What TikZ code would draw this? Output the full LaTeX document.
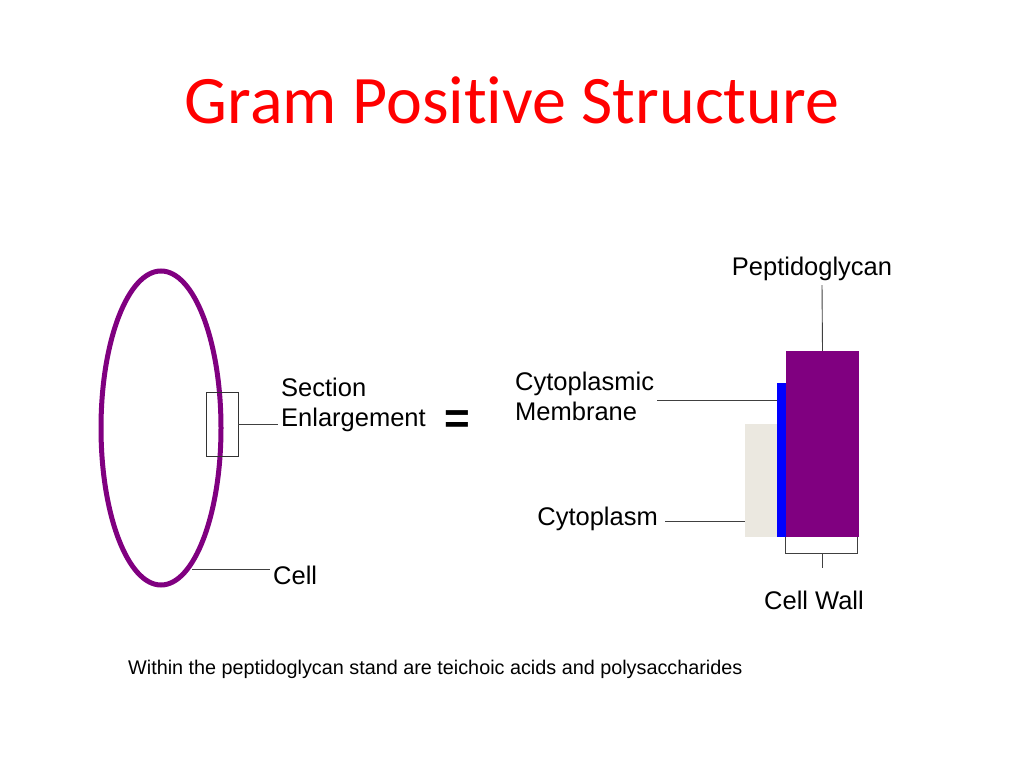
\documentclass[tikz,border=0pt]{standalone}
\usepackage{fontspec}
\setmainfont{Liberation Sans}
\newfontfamily\titlefont[Ligatures={NoCommon}]{Carlito}
\definecolor{ttlred}{RGB}{255,0,0}
\definecolor{cellpurple}{RGB}{128,0,128}
\definecolor{cytocol}{RGB}{235,232,224}
\begin{document}
\begin{tikzpicture}[x=1pt,y=-1pt,
  lbl/.style={font=\fontsize{25.5}{30}\selectfont, inner sep=0pt, align=left},
  conn/.style={draw=black!75, line width=0.9pt}]
\useasboundingbox (0,0) rectangle (1024,768);
\node[font=\titlefont\fontsize{68}{72}\selectfont, text=ttlred] (title) at (512,100) {Gram Positive Structure};
% cell
\draw[cellpurple, line width=5pt] (161,428) ellipse [x radius=60, y radius=157];
\node[draw=black!80, line width=0.8pt, minimum width=32pt, minimum height=64pt, inner sep=0pt] (sec) at (222,424) {};
\node[lbl, anchor=west] (secl) at (281,405) {Section\\Enlargement};
\draw[conn] (sec.east) -- ([xshift=-3pt]secl.west |- sec.east);
\coordinate (cellpt) at (192,569);
\node[lbl, anchor=west] (celll) at (273,575) {Cell};
\draw[conn] (cellpt) -- ([xshift=-3pt]celll.west |- cellpt);
\node[font=\bfseries\fontsize{44}{44}\selectfont, inner sep=0pt] (eq) at (457,422) {=};
% enlargement
\node[fill=cytocol, minimum width=33pt, minimum height=113pt, inner sep=0pt] (cyto) at (761.5,480.5) {};
\node[fill=blue, minimum width=9pt, minimum height=154pt, inner sep=0pt] (mem) at (781.5,460) {};
\node[fill=cellpurple, minimum width=73pt, minimum height=186pt, inner sep=0pt] (pep) at (822.5,444) {};
\node[lbl] (pepl) at (812,269) {Peptidoglycan};
\draw[conn] (pep.north) -- (822,285);
\node[lbl, anchor=west] (meml) at (515,396) {Cytoplasmic\\Membrane};
\draw[conn] (657,400) -- (mem.west |- 0,400);
\node[lbl, anchor=east] (cytol) at (658,519) {Cytoplasm};
\draw[conn] (665,521) -- (cyto.west |- 0,521);
\draw[conn] (pep.south west) -- ++(0,16) -- ++(72,0) coordinate (br) -- (br |- pep.south);
\node[lbl] (cwl) at (814,600) {Cell Wall};
\draw[conn] (822,553) -- (822,568);
\node[font=\fontsize{19.8}{22}\selectfont, anchor=west, inner sep=0pt] (note) at (128,669) {Within the peptidoglycan stand are teichoic acids and polysaccharides};
\end{tikzpicture}
\end{document}
